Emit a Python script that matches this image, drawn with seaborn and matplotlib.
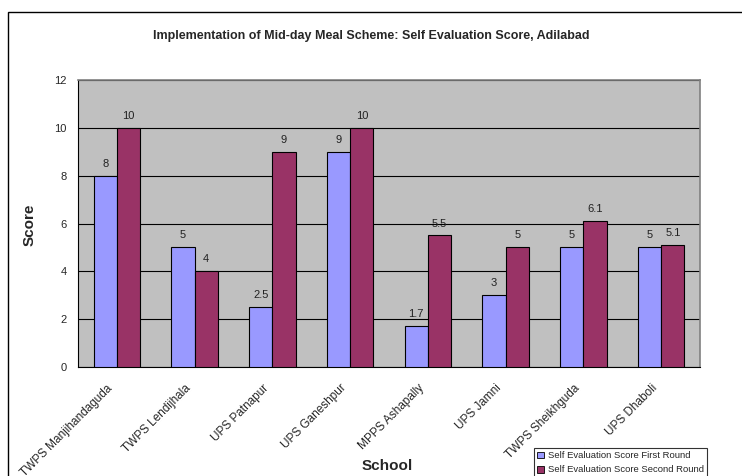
import matplotlib
matplotlib.use("Agg")
import matplotlib.pyplot as plt
import seaborn as sns
import pandas as pd
from matplotlib.patches import Rectangle, Patch

schools = ["TWPS Manjihandaguda", "TWPS Lendijhala", "UPS Patnapur", "UPS Ganeshpur",
           "MPPS Ashapally", "UPS Jamni", "TWPS Sheikhguda", "UPS Dhaboli"]
first_round = [8, 5, 2.5, 9, 1.7, 3, 5, 5]
second_round = [10, 4, 9, 10, 5.5, 5, 6.1, 5.1]
series = ["Self Evaluation Score First Round", "Self Evaluation Score Second Round"]
colors = ["#9999FF", "#993366"]

df = pd.DataFrame({
    "School": schools * 2,
    "Score": first_round + second_round,
    "Round": [series[0]] * len(schools) + [series[1]] * len(schools),
})

sns.set_style("white")
plt.rcParams["font.family"] = ["Liberation Sans", "DejaVu Sans"]

fig = plt.figure(figsize=(7.42, 4.76), dpi=100)
ax = fig.add_axes([78 / 742, 1 - 367 / 476, (700 - 78) / 742, (367 - 80) / 476])
ax.set_facecolor("#C0C0C0")

sns.barplot(data=df, x="School", y="Score", hue="Round", palette=colors,
            saturation=1, width=0.6, edgecolor="black", linewidth=0.8, ax=ax,
            legend=False, zorder=3)

for cont in ax.containers:
    labels = [("%g" % v) for v in cont.datavalues]
    ax.bar_label(cont, labels=labels, padding=5, fontsize=8, color="#222222")

ax.set_ylim(0, 12)
ax.set_yticks(range(0, 13, 2))
ax.set_xlim(-0.5, len(schools) - 0.5)
ax.yaxis.grid(True, color="black", linewidth=0.8, zorder=0)
ax.set_axisbelow(True)

ax.set_xticks([i - 0.5 for i in range(len(schools) + 1)], minor=False)
ax.set_xticklabels([""] * (len(schools) + 1))
ax.set_xticks([i - 0.13 for i in range(len(schools))], minor=True)
ax.set_xticklabels(schools, minor=True, rotation=45, ha="right", va="top",
                   rotation_mode="anchor", fontsize=8.5)
ax.tick_params(axis="x", which="minor", length=0, pad=11)
ax.tick_params(axis="x", which="major", length=5, width=0.8, color="black", direction="out")
ax.tick_params(axis="y", length=5, width=0.8, color="black", direction="out", labelsize=8, pad=3)

for s in ["left", "bottom"]:
    ax.spines[s].set_color("black")
    ax.spines[s].set_linewidth(0.8)
for s in ["top", "right"]:
    ax.spines[s].set_color("#808080")
    ax.spines[s].set_linewidth(1.2)

ax.set_xlabel("")
ax.set_ylabel("")
fig.text(30 / 742, 1 - 225 / 476, "Score", rotation=90, ha="center", va="center",
         fontsize=11, fontweight="bold")
fig.text(387 / 742, 1 - 466 / 476, "School", ha="center", va="center",
         fontsize=11, fontweight="bold")
fig.text(371 / 742, 1 - 36 / 476,
         "Implementation of Mid-day Meal Scheme: Self Evaluation Score, Adilabad",
         ha="center", va="center", fontsize=9, fontweight="bold")

fig.patches.append(Rectangle((8 / 742, -0.2), 1.1, 1 - 12 / 476 + 0.2,
                             transform=fig.transFigure, fill=False,
                             edgecolor="black", linewidth=1.0))

handles = [Patch(facecolor=c, edgecolor="black", linewidth=0.6) for c in colors]
leg = fig.legend(handles, series, loc="upper left",
                 bbox_to_anchor=(534 / 742, 1 - 448 / 476), fontsize=6.8,
                 frameon=True, fancybox=False, handlelength=0.7, handleheight=0.7,
                 handletextpad=0.4, borderpad=0.35, labelspacing=0.55,
                 borderaxespad=0)
leg.get_frame().set_edgecolor("black")
leg.get_frame().set_linewidth(0.8)

fig.savefig("out.png", dpi=100)
